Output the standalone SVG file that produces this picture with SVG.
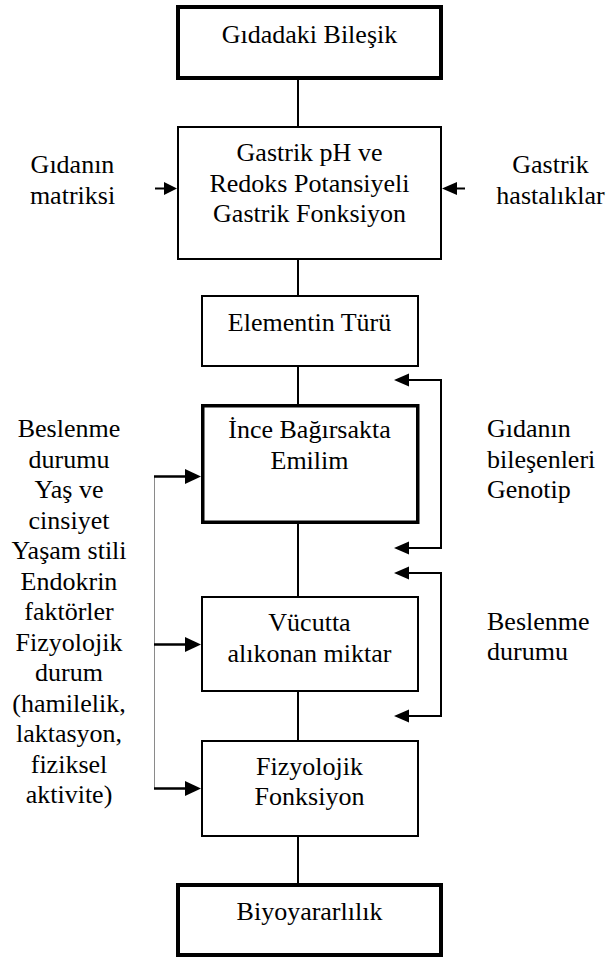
<svg xmlns="http://www.w3.org/2000/svg" width="607" height="958" viewBox="0 0 607 958" font-family="Liberation Serif" font-size="26">
<defs>
<polygon id="ahL" points="0,0 15,-6.5 15,6.5" fill="#000"/>
<polygon id="ahR" points="0,0 -16,-7.5 -16,7.5" fill="#000"/>
</defs>
<rect width="607" height="958" fill="#fff"/>
<g id="connectors" stroke="#000" stroke-width="2" fill="none">
<line x1="298" y1="80" x2="298" y2="126"/>
<line x1="298" y1="260" x2="298" y2="295"/>
<line x1="298" y1="367" x2="298" y2="404"/>
<line x1="298" y1="524" x2="298" y2="596"/>
<line x1="298" y1="692" x2="298" y2="740"/>
<line x1="298" y1="837" x2="298" y2="883"/>
<line x1="155" y1="188.5" x2="166" y2="188.5"/>
<polygon points="177,188.5 164,182 164,195" fill="#000" stroke="none"/>
<line x1="465" y1="188.5" x2="453" y2="188.5"/>
<use href="#ahL" x="442" y="188.5" stroke="none"/>
<line x1="154.5" y1="476.5" x2="154.5" y2="788.5" stroke="#8a8a8a" stroke-width="1"/>
<line x1="154" y1="476.5" x2="188" y2="476.5" stroke-width="2.5"/>
<use href="#ahR" x="201" y="476.5" stroke="none"/>
<line x1="154" y1="644.5" x2="188" y2="644.5" stroke-width="2.5"/>
<use href="#ahR" x="201" y="644.5" stroke="none"/>
<line x1="154" y1="788.5" x2="188" y2="788.5" stroke-width="2.5"/>
<use href="#ahR" x="201" y="788.5" stroke="none"/>
<polyline points="407,380 441,380 441,548 407,548"/>
<use href="#ahL" x="394" y="380" stroke="none"/>
<use href="#ahL" x="394" y="548" stroke="none"/>
<polyline points="407,573 441,573 441,716 407,716"/>
<use href="#ahL" x="394" y="573" stroke="none"/>
<use href="#ahL" x="394" y="716" stroke="none"/>
</g>
<g id="n1">
<rect x="178" y="7" width="263" height="71" fill="#fff" stroke="#000" stroke-width="4"/>
<text x="309.5" y="43" font-family="Liberation Serif" font-size="26" text-anchor="middle">Gıdadaki Bileşik</text>
</g>
<g id="n2">
<rect x="178" y="127" width="263" height="132" fill="#fff" stroke="#000" stroke-width="2"/>
<text x="309.5" y="161" font-family="Liberation Serif" font-size="26" text-anchor="middle">Gastrik pH ve</text>
<text x="309.5" y="191.5" font-family="Liberation Serif" font-size="26" text-anchor="middle">Redoks Potansiyeli</text>
<text x="309.5" y="222" font-family="Liberation Serif" font-size="26" text-anchor="middle">Gastrik Fonksiyon</text>
</g>
<g id="n3">
<rect x="202" y="296" width="216" height="70" fill="#fff" stroke="#000" stroke-width="2"/>
<text x="309.5" y="331" font-family="Liberation Serif" font-size="26" text-anchor="middle">Elementin Türü</text>
</g>
<g id="n4">
<rect x="202.75" y="405.75" width="215" height="116.5" fill="#fff" stroke="#000" stroke-width="3.5"/>
<text x="309.5" y="438" font-family="Liberation Serif" font-size="26" text-anchor="middle">İnce Bağırsakta</text>
<text x="309.5" y="469" font-family="Liberation Serif" font-size="26" text-anchor="middle">Emilim</text>
</g>
<g id="n5">
<rect x="202" y="597" width="216" height="94" fill="#fff" stroke="#000" stroke-width="2"/>
<text x="309.5" y="631" font-family="Liberation Serif" font-size="26" text-anchor="middle">Vücutta</text>
<text x="309.5" y="661.5" font-family="Liberation Serif" font-size="26" text-anchor="middle">alıkonan miktar</text>
</g>
<g id="n6">
<rect x="202" y="741" width="216" height="95" fill="#fff" stroke="#000" stroke-width="2"/>
<text x="309.5" y="774.5" font-family="Liberation Serif" font-size="26" text-anchor="middle">Fizyolojik</text>
<text x="309.5" y="805" font-family="Liberation Serif" font-size="26" text-anchor="middle">Fonksiyon</text>
</g>
<g id="n7">
<rect x="178" y="885" width="263" height="70" fill="#fff" stroke="#000" stroke-width="4"/>
<text x="309.5" y="920" font-family="Liberation Serif" font-size="26" text-anchor="middle">Biyoyararlılık</text>
</g>
<g id="l-matriks">
<text x="72.5" y="173" font-family="Liberation Serif" font-size="26" text-anchor="middle">Gıdanın</text>
<text x="72.5" y="203.5" font-family="Liberation Serif" font-size="26" text-anchor="middle">matriksi</text>
</g>
<g id="l-gastrik">
<text x="550.5" y="173" font-family="Liberation Serif" font-size="26" text-anchor="middle">Gastrik</text>
<text x="550.5" y="203.5" font-family="Liberation Serif" font-size="26" text-anchor="middle">hastalıklar</text>
</g>
<g id="l-left">
<text x="69" y="437" font-family="Liberation Serif" font-size="26" text-anchor="middle">Beslenme</text>
<text x="69" y="467.5" font-family="Liberation Serif" font-size="26" text-anchor="middle">durumu</text>
<text x="69" y="498" font-family="Liberation Serif" font-size="26" text-anchor="middle">Yaş ve</text>
<text x="69" y="528.5" font-family="Liberation Serif" font-size="26" text-anchor="middle">cinsiyet</text>
<text x="69" y="559" font-family="Liberation Serif" font-size="26" text-anchor="middle">Yaşam stili</text>
<text x="69" y="589.5" font-family="Liberation Serif" font-size="26" text-anchor="middle">Endokrin</text>
<text x="69" y="620" font-family="Liberation Serif" font-size="26" text-anchor="middle">faktörler</text>
<text x="69" y="650.5" font-family="Liberation Serif" font-size="26" text-anchor="middle">Fizyolojik</text>
<text x="69" y="681" font-family="Liberation Serif" font-size="26" text-anchor="middle">durum</text>
<text x="69" y="711.5" font-family="Liberation Serif" font-size="26" text-anchor="middle">(hamilelik,</text>
<text x="69" y="742" font-family="Liberation Serif" font-size="26" text-anchor="middle">laktasyon,</text>
<text x="69" y="772.5" font-family="Liberation Serif" font-size="26" text-anchor="middle">fiziksel</text>
<text x="69" y="803" font-family="Liberation Serif" font-size="26" text-anchor="middle">aktivite)</text>
</g>
<g id="l-genotip">
<text x="487" y="437" font-family="Liberation Serif" font-size="26">Gıdanın</text>
<text x="487" y="467.5" font-family="Liberation Serif" font-size="26">bileşenleri</text>
<text x="487" y="498" font-family="Liberation Serif" font-size="26">Genotip</text>
</g>
<g id="l-beslenme">
<text x="487" y="630" font-family="Liberation Serif" font-size="26">Beslenme</text>
<text x="487" y="660" font-family="Liberation Serif" font-size="26">durumu</text>
</g>
</svg>
